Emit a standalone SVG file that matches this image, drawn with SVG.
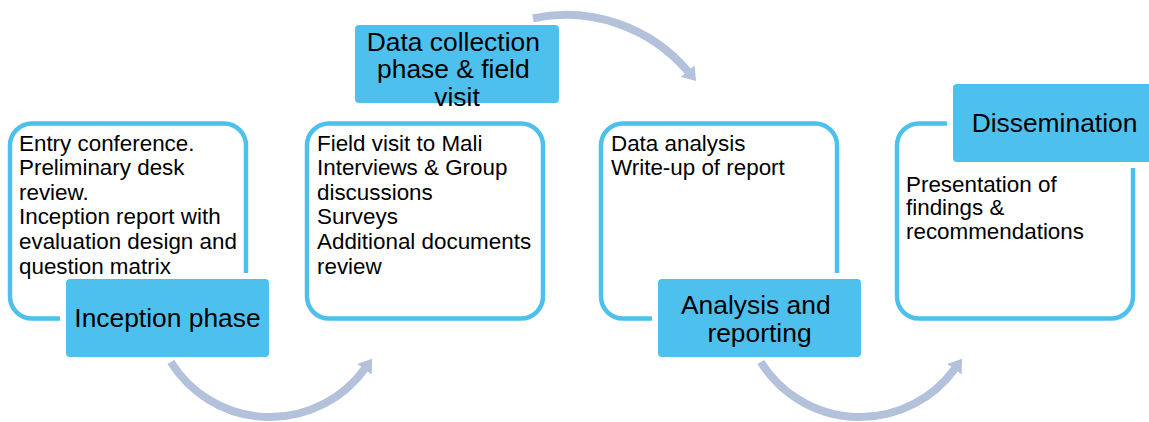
<svg xmlns="http://www.w3.org/2000/svg" width="1149" height="422" viewBox="0 0 1149 422">
  <defs>
    <style>
      .frame { fill: #ffffff; stroke: #4EC0EE; stroke-width: 4.5; }
      .tag { fill: #4EC0EE; stroke: #ffffff; stroke-width: 12; paint-order: stroke; }
      .body { font-family: "Liberation Sans", Arial, sans-serif; font-size: 22.4px; fill: #000000; }
      .head { font-family: "Liberation Sans", Arial, sans-serif; font-size: 26.4px; fill: #000000; text-anchor: middle; }
      .flow { fill: none; stroke: #B4C1DA; stroke-width: 8; marker-end: url(#head); }
    </style>
    <marker id="head" viewBox="0 0 13 18" refX="0.5" refY="9" markerWidth="13" markerHeight="18" markerUnits="userSpaceOnUse" orient="auto">
      <path d="M0,0 L13,9 L0,18 Z" fill="#B4C1DA"/>
    </marker>
  </defs>

  <rect width="1149" height="422" fill="#ffffff"/>

  <!-- Stage 1: inception -->
  <g id="inception">
    <rect class="frame" x="10" y="123.5" width="236" height="195" rx="22"/>
    <rect class="tag" x="66" y="279" width="203" height="78" rx="4"/>
    <text class="body" x="19">
      <tspan x="19" y="150.5">Entry conference.</tspan>
      <tspan x="19" y="175.1">Preliminary desk</tspan>
      <tspan x="19" y="199.7">review.</tspan>
      <tspan x="19" y="224.3">Inception report with</tspan>
      <tspan x="19" y="248.9">evaluation design and</tspan>
      <tspan x="19" y="273.5">question matrix</tspan>
    </text>
    <text class="head" x="167.5" y="327">Inception phase</text>
  </g>

  <!-- Stage 2: data collection -->
  <g id="data-collection">
    <rect class="frame" x="307" y="123.5" width="236" height="195" rx="22"/>
    <rect class="tag" x="355" y="25" width="204" height="78" rx="4"/>
    <text class="body">
      <tspan x="317" y="150.5">Field visit to Mali</tspan>
      <tspan x="317" y="175.1">Interviews &amp; Group</tspan>
      <tspan x="317" y="199.7">discussions</tspan>
      <tspan x="317" y="224.3">Surveys</tspan>
      <tspan x="317" y="248.9">Additional documents</tspan>
      <tspan x="317" y="273.5">review</tspan>
    </text>
    <text class="head">
      <tspan x="457" y="50.5">Data collection</tspan>
      <tspan x="457" y="78">phase &amp; field</tspan>
      <tspan x="457" y="105.5">visit</tspan>
    </text>
  </g>

  <!-- Stage 3: analysis -->
  <g id="analysis">
    <rect class="frame" x="601" y="123.5" width="236" height="195" rx="22"/>
    <rect class="tag" x="658" y="279" width="203" height="78" rx="4"/>
    <text class="body">
      <tspan x="611" y="150.5">Data analysis</tspan>
      <tspan x="611" y="175.1">Write-up of report</tspan>
    </text>
    <text class="head">
      <tspan x="759.5" y="313.5">Analysis and</tspan>
      <tspan x="759.5" y="341.5">reporting</tspan>
    </text>
  </g>

  <!-- Stage 4: dissemination -->
  <g id="dissemination">
    <rect class="frame" x="897" y="123.5" width="236" height="195" rx="22"/>
    <rect class="tag" x="953" y="84" width="203" height="78" rx="4"/>
    <text class="body">
      <tspan x="906" y="191.7">Presentation of</tspan>
      <tspan x="906" y="215.2">findings &amp;</tspan>
      <tspan x="906" y="238.7">recommendations</tspan>
    </text>
    <text class="head" x="1054.5" y="132">Dissemination</text>
  </g>

  <!-- Curved arrows between stages -->
  <g id="connectors">
    <path class="flow" d="M170.8,362 A117,117 0 0 0 364.7,368.8"/>
    <path class="flow" d="M533,18.4 A160,160 0 0 1 688,71.5"/>
    <path class="flow" d="M760.8,362 A117,117 0 0 0 954.7,368.8"/>
  </g>
</svg>
